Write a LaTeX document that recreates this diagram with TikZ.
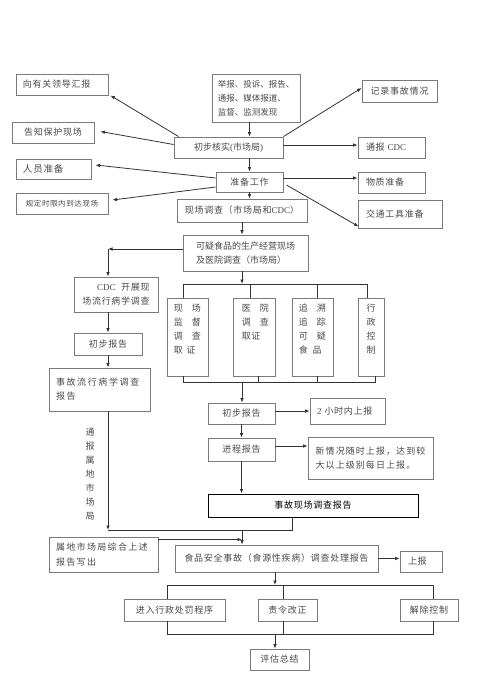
\documentclass[tikz,border=0pt]{standalone}
\usepackage{fontspec}
\setmainfont{Liberation Serif}
\newfontfamily\cjk[LetterSpace=8]{Noto Sans CJK SC}
\newfontfamily\cjkn{Noto Sans CJK SC}
\usetikzlibrary{arrows.meta}
\definecolor{txt}{HTML}{4A4A4A}
\definecolor{bdr}{HTML}{7A7A7A}
\definecolor{lnc}{HTML}{333333}
\newcommand{\latn}[1]{{\rmfamily #1}}
\begin{document}
\begin{tikzpicture}[x=1pt,y=-1pt,
  box/.style={draw=bdr, line width=0.9pt, rectangle, inner sep=0pt, text=txt,
    font=\fontsize{9}{14}\selectfont\cjk, align=center},
  blackbox/.style={draw=black, line width=1pt, rectangle, inner sep=0pt, text=black,
    font=\fontsize{9}{14}\selectfont\cjk, align=center},
  tx/.style={inner sep=0pt, text=txt, font=\fontsize{9}{14}\selectfont\cjk},
  ln/.style={draw=lnc, line width=0.8pt},
  arr/.style={ln, -{Latex[length=4.5pt,width=3.6pt]}},
]
\useasboundingbox (0,0) rectangle (494,696);
\fill[white] (0,0) rectangle (494,696);

% ---- top section
\node[box, minimum width=92pt, minimum height=21pt, text width=78pt, align=left] (lead) at (62,84.5) {向有关领导汇报};
\node[box, minimum width=82pt, minimum height=21pt] (gaozhi) at (53,132.5) {告知保护现场};
\node[box, minimum width=75pt, minimum height=20pt, text width=61pt, align=left, font=\fontsize{9.5}{14}\selectfont\cjk] (renyuan) at (53.5,169) {人员准备};
\node[box, minimum width=92pt, minimum height=21pt, font=\fontsize{7.5}{10}\selectfont\cjk] (guiding) at (62,203.5) {规定时限内到达现场};

\node[box, minimum width=88pt, minimum height=48pt, align=left, font=\fontsize{8.5}{14}\selectfont\cjkn] (jubao) at (256,98) {举报、投诉、报告、\\通报、媒体报道、\\监督、监测发现};
\node[box, minimum width=109pt, minimum height=21pt, font=\fontsize{9}{14}\selectfont\cjkn] (chubu) at (228.5,147.5) {初步核实\latn{(}市场局\latn{)}};
\node[box, minimum width=67pt, minimum height=20pt] (zhunbei) at (249.5,182) {准备工作};
\node[box, minimum width=130pt, minimum height=23pt] (xianchang) at (242,210.5) {现场调查（市场局和\latn{CDC}）};

\node[box, minimum width=75pt, minimum height=22pt] (jilu) at (399.5,91) {记录事故情况};
\node[box, minimum width=67pt, minimum height=21pt, text width=51pt, align=left] (tongbao) at (391.5,147.5) {通报 \latn{CDC}};
\node[box, minimum width=67pt, minimum height=21pt, text width=51pt, align=left] (wuzhi) at (391.5,182.5) {物质准备};
\node[box, minimum width=84pt, minimum height=28pt, text width=68pt, align=left] (jiaotong) at (400,214) {交通工具准备};

% ---- middle section
\node[box, minimum width=125pt, minimum height=36pt, align=left, font=\fontsize{9}{14}\selectfont\cjkn] (keyi) at (245.5,253) {可疑食品的生产经营现场\\及医院调查（市场局）};
\node[box, minimum width=84pt, minimum height=35pt, align=right] (cdc) at (116,294.5) {\latn{CDC}\ \ 开展现\\场流行病学调查};
\node[box, minimum width=68pt, minimum height=22pt] (chubuL) at (108,344) {初步报告};
\node[box, minimum width=101pt, minimum height=43pt, text width=87pt, align=left, font=\fontsize{9}{14}\selectfont\cjkn\addfontfeatures{LetterSpace=18}] (liubing) at (99.5,389.5) {事故流行病学调查\\报告};

\node[box, minimum width=41pt, minimum height=78pt] (b1) at (187.5,337) {};
\node[box, minimum width=42pt, minimum height=78pt] (b2) at (254,337) {};
\node[box, minimum width=41pt, minimum height=78pt] (b3) at (312.5,337) {};
\node[box, minimum width=26pt, minimum height=78pt] (b4) at (371,337) {};
\node[tx, anchor=north west, align=left] (t1) at ([xshift=7pt,yshift=-6.5pt]b1.north west) {现\quad 场\\监\quad 督\\调\quad 查\\取\hspace{4pt}证};
\node[tx, anchor=north west, align=left] (t2) at ([xshift=9pt,yshift=-6.5pt]b2.north west) {医\quad 院\\调\quad 查\\取证};
\node[tx, anchor=north west, align=left] (t3) at ([xshift=7pt,yshift=-6.5pt]b3.north west) {追\quad 溯\\追\quad 踪\\可\quad 疑\\食\hspace{5pt}品};
\node[tx, anchor=north, align=center] (t4) at ([yshift=-6.5pt]b4.north) {行\\政\\控\\制};

\node[box, minimum width=67pt, minimum height=21pt] (chubuC) at (241.5,413.5) {初步报告};
\node[box, minimum width=75pt, minimum height=26pt, text width=61pt, align=left] (twoh) at (347.5,411) {\latn{2} 小时内上报};
\node[box, minimum width=67pt, minimum height=23pt] (jincheng) at (241.5,449.5) {进程报告};
\node[box, minimum width=125pt, minimum height=42pt, align=left, font=\fontsize{9}{14}\selectfont\cjkn\addfontfeatures{LetterSpace=12}] (xinqing) at (370.5,458) {新情况随时上报，达到较\\大以上级别每日上报。};
\node[blackbox, minimum width=210pt, minimum height=23pt] (diaocha) at (313,505.5) {事故现场调查报告};

\node[tx, align=center] (tbl) at (90,474) {通\\报\\属\\地\\市\\场\\局};

% ---- bottom section
\node[box, minimum width=109pt, minimum height=35pt, text width=95pt, align=left, font=\fontsize{9}{15}\selectfont\cjkn\addfontfeatures{LetterSpace=15}] (shudi) at (103.5,554.5) {属地市场局综合上述\\报告写出};
\node[box, minimum width=203pt, minimum height=27pt] (shipin) at (276.5,558.5) {食品安全事故（食源性疾病）调查处理报告};
\node[box, minimum width=42pt, minimum height=21pt, text width=26pt, align=left] (shangbao) at (421,561.5) {上报};
\node[box, minimum width=101pt, minimum height=22pt] (p1) at (174.5,610) {进入行政处罚程序};
\node[box, minimum width=59pt, minimum height=22pt] (p2) at (287.5,610) {责令改正};
\node[box, minimum width=58pt, minimum height=22pt] (p3) at (429,610) {解除控制};
\node[box, minimum width=59pt, minimum height=21pt] (pinggu) at (279.5,659.5) {评估总结};

% ---- coordinates for junctions
\coordinate (kl) at (108,249);
\coordinate (kb) at (242,284);
\coordinate (kc) at (242,382);
\coordinate (jn) at (242,530);
\coordinate (jl) at (108,530);
\coordinate (dj) at ([xshift=-21pt]diaocha.south);
\coordinate (kd) at (275,585);
\coordinate (ke) at (275,634);

% ---- connectors: top
\draw[arr] (jubao.south -| zhunbei) -- (chubu.north -| zhunbei);
\draw[arr] (chubu.south -| zhunbei) -- (zhunbei.north);
\draw[arr] (zhunbei.south) -- (xianchang.north -| zhunbei);
\draw[arr] ([xshift=5pt]chubu.north west) -- ([xshift=2pt]lead.south east);
\draw[arr] ([yshift=3pt]chubu.west) -- ([xshift=6pt,yshift=1pt]gaozhi.east);
\draw[arr] ([yshift=4pt]zhunbei.west) -- ([xshift=4pt,yshift=4pt]renyuan.east);
\draw[arr] ([yshift=-5pt]zhunbei.west) -- ([xshift=4pt,yshift=3.5pt]guiding.east);
\draw[arr] (chubu.north east) -- ([yshift=3pt]jilu.west);
\draw[arr] ([yshift=2.5pt]chubu.east) -- ([yshift=2.5pt]chubu.east -| tongbao.west);
\draw[arr] ([yshift=4pt]zhunbei.east) -- ([yshift=4pt]zhunbei.east -| wuzhi.west);
\draw[arr] ([xshift=3pt,yshift=-3pt]zhunbei.east) -- ([xshift=1pt,yshift=2pt]jiaotong.south west);

% ---- connectors: middle
\draw[arr] (xianchang.south) -- (keyi.north -| xianchang);
\draw[arr] ([yshift=4pt]keyi.west) -- (kl);
\draw[arr] (kl) -- (kl |- cdc.north);
\draw[arr] (cdc.south -| chubuL) -- (chubuL.north);
\draw[arr] (chubuL.south) -- (liubing.north -| chubuL);
\draw[arr] (keyi.south -| kb) -- (kb);
\draw[ln] ([xshift=-4.5pt]b1.north) |- ([xshift=-4pt]b4.north |- kb) -- ([xshift=-4pt]b4.north);
\draw[ln] ([xshift=-4pt]b2.north) -- ([xshift=-4pt]b2.north |- kb);
\draw[ln] ([xshift=4.5pt]b3.north) -- ([xshift=4.5pt]b3.north |- kb);
\draw[ln] ([xshift=-4.5pt]b1.south) |- ([xshift=4pt]b4.south |- kc) -- ([xshift=4pt]b4.south);
\draw[ln] ([xshift=4pt]b2.south) -- ([xshift=4pt]b2.south |- kc);
\draw[ln] ([xshift=4.5pt]b3.south) -- ([xshift=4.5pt]b3.south |- kc);
\draw[arr] (kc) -- (chubuC.north -| kc);
\draw[arr] ([yshift=2.5pt]chubuC.east) -- ([yshift=2.5pt]chubuC.east -| twoh.west);
\draw[arr] (chubuC.south) -- (jincheng.north);
\draw[arr] ([yshift=3.5pt]jincheng.east) -- ([yshift=3.5pt]jincheng.east -| xinqing.west);
\draw[arr] (jincheng.south) -- (jincheng.south |- diaocha.north);

% ---- connectors: bottom
\draw[arr] (liubing.south -| jl) -- (jl);
\draw[ln] (jl) -| (dj);
\draw[arr] (jn) -- (shipin.north -| jn);
\draw[arr] ([yshift=-3pt]shudi.north east) -- ([yshift=-3pt]shudi.north east -| jn);
\draw[arr] (shipin.east) -- (shipin.east -| shangbao.west);
\draw[arr] (shipin.south -| kd) -- (kd);
\draw[ln] ([xshift=-7.5pt]p1.north) |- ([xshift=4pt]p3.north |- kd) -- ([xshift=4pt]p3.north);
\draw[ln] ([xshift=-4.5pt]p2.north) -- ([xshift=-4.5pt]p2.north |- kd);
\draw[ln] ([xshift=-7.5pt]p1.south) |- ([xshift=4pt]p3.south |- ke) -- ([xshift=4pt]p3.south);
\draw[ln] ([xshift=-4.5pt]p2.south) -- ([xshift=-4.5pt]p2.south |- ke);
\draw[arr] (ke) -- (pinggu.north -| ke);
\end{tikzpicture}
\end{document}
